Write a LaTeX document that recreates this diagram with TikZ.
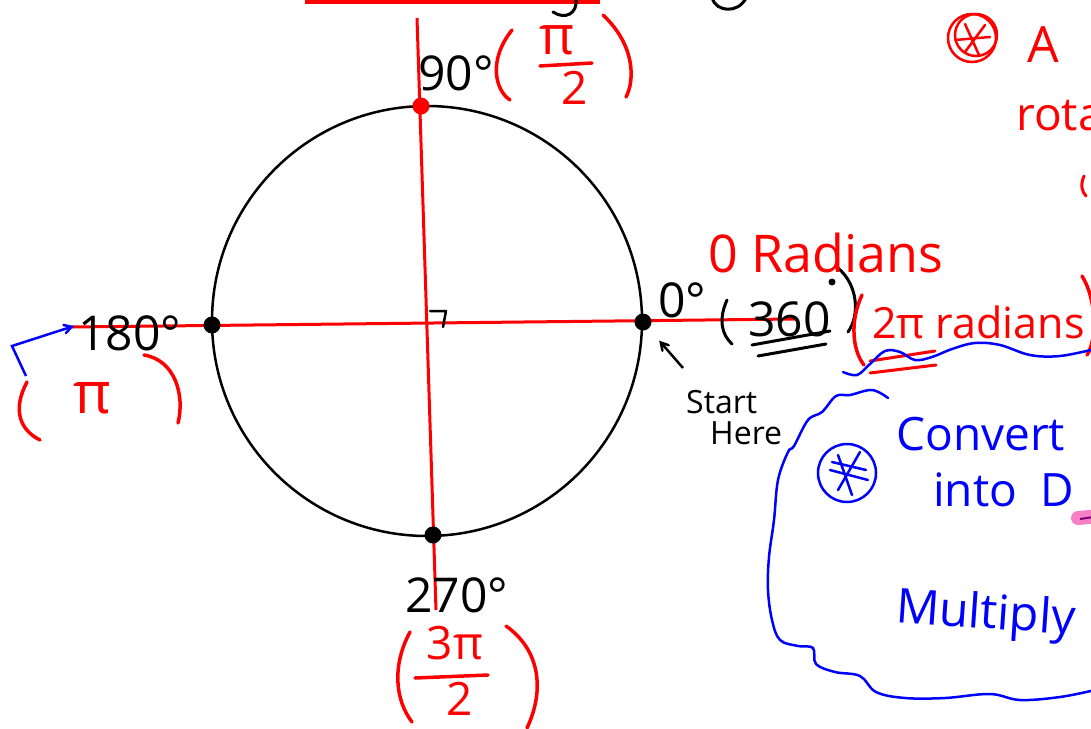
\documentclass[tikz,border=0pt]{standalone}
\usepackage{fontspec}
\setmainfont{Open Sans}
\usetikzlibrary{arrows}
\tikzstyle{axis} = [
    red,
    line width=3pt
]
\tikzstyle{ring} = [
    black,
    line width=2.5pt
]
\tikzstyle{pointdot} = [
    circle,
    fill=black,
    inner sep=0pt,
    minimum size=17pt
]
\tikzstyle{degree} = [
    black,
    inner sep=0pt,
    font=\fontsize{48}{54}\selectfont
]
\tikzstyle{radian} = [
    red,
    inner sep=0pt,
    font=\fontsize{46}{52}\selectfont
]
\tikzstyle{note} = [
    blue,
    inner sep=0pt,
    font=\fontsize{46}{52}\selectfont
]
\tikzstyle{paren} = [
    red,
    line width=3.5pt,
    line cap=round
]
\tikzstyle{stroke} = [
    line width=3pt,
    line cap=round,
    line join=round
]
\tikzstyle{arrow} = [thick,->,>=angle 60]

\begin{document}
\begin{tikzpicture}[x=1pt, y=-1pt]
\useasboundingbox (0,0) rectangle (1091,728);
\fill [white] (0,0) rectangle (1091,728);

% bits of writing cut off at the top
\draw [red, line width=5pt] (305,1) -- (600,1);
\draw [stroke, black] (576,-2) .. controls (578,14) and (565,20) .. (553,12);
\draw [stroke, black] (712,-2) .. controls (716,12) and (738,14) .. (746,-2);

% axes and circle
\coordinate (top) at (417,18);
\coordinate (bottom) at (436,610);
\coordinate (left) at (72,327);
\coordinate (right) at (795,319);
\draw [axis] (top) -- (bottom);
\draw [axis] (left) -- (right);
\draw [ring] (427,321) circle (215);
\draw [stroke, black, line width=2.5pt] (430,311) -- (446,311) -- (443,327);

\node (north) [pointdot, fill=red] at (421,106) {};
\node (west) [pointdot] at (212,325) {};
\node (east) [pointdot] at (643,322) {};
\node (south) [pointdot] at (433,535) {};

% 90 degrees
\node (ninety) [degree, anchor=base west] at (418,90) {90°};
\node (halfpi) [radian, font=\fontsize{54}{56}\selectfont] at (557,40) {π};
\node (halftwo) [radian] at (575,88) {2};
\draw [paren] (540,66) -- (592,63);
\draw [paren] (512,30) .. controls (488,60) and (495,90) .. (510,100);
\draw [paren] (603,15) .. controls (635,45) and (635,80) .. (626,97);

% 180 degrees
\node (oneeighty) [degree, anchor=base west] at (78,350) {180°};
\coordinate (bluetail) at (26,376);
\coordinate (bluetip) at (74,326);
\draw [arrow, blue, line width=2.5pt] (bluetail) -- (12,346) -- (bluetip);
\node (pi) [radian, font=\fontsize{58}{60}\selectfont] at (92,398) {π};
\draw [paren] (27,382) .. controls (12,410) and (20,430) .. (40,440);
\draw [paren] (144,355) .. controls (175,360) and (185,395) .. (178,423);

% 0 degrees
\node (zero) [degree, anchor=base west] at (658,317) {0°};
\node (full) [degree, anchor=base west] at (748,336) {360};
\fill [black] (832,282) circle (3.5);
\draw [stroke, black] (727,300) .. controls (718,320) and (722,335) .. (732,344);
\draw [stroke, black] (838,268) .. controls (858,285) and (860,315) .. (848,332);
\draw [stroke, black] (752,345) -- (830,331);
\draw [stroke, black] (758,356) -- (826,344);
\node (zerorad) [radian, anchor=base west, font=\fontsize{52}{58}\selectfont] at (708,272) {0 Radians};
\node (tworad) [radian, anchor=base west, font=\fontsize{43}{48}\selectfont] at (872,338) {2π radians};
\draw [paren] (862,295) .. controls (850,320) and (852,350) .. (864,365);
\draw [paren] (1082,276) .. controls (1097,300) and (1097,340) .. (1087,355);
\draw [paren, line width=3pt] (870,361) -- (935,351);
\draw [paren, line width=3pt] (870,373) -- (936,365);

% start here
\node (start) [black, inner sep=0pt, font=\fontsize{32}{36}\selectfont, anchor=base west] at (686,413) {Start};
\node (here) [black, inner sep=0pt, font=\fontsize{32}{36}\selectfont, anchor=base west] at (710,444) {Here};
\coordinate (starttail) at (683,368);
\draw [arrow, line width=2.5pt, shorten >=16pt] (starttail) -- (east);

% 270 degrees
\node (twoseventy) [degree, anchor=base west] at (405,612) {270°};
\node (threepi) [radian] at (455,643) {3π};
\node (threetwo) [radian] at (460,699) {2};
\draw [paren] (415,678) -- (488,675);
\draw [paren] (410,632) .. controls (392,665) and (395,700) .. (412,722);
\draw [paren] (506,626) .. controls (540,650) and (545,690) .. (527,728);

% note top right
\draw [red, line width=2.5pt] (972,38) circle (24);
\draw [red, line width=2.5pt] (976,35) circle (21);
\draw [stroke, red, line width=2.5pt] (955,40) -- (990,37);
\draw [stroke, red, line width=2.5pt] (965,24) -- (979,55);
\draw [stroke, red, line width=2.5pt] (985,25) -- (965,52);
\node (rotA) [radian, anchor=base west, font=\fontsize{50}{56}\selectfont] at (1027,62) {A};
\node (rota) [radian, anchor=base west] at (1016,130) {rota};
\draw [paren, line width=3pt] (1084,176) .. controls (1080,185) and (1082,192) .. (1086,196);

% blue cloud
\draw [blue, line width=2.5pt, line cap=round] plot [smooth, tension=0.6] coordinates {
  (843,372) (857,375) (870,364) (885,351) (900,352) (915,360) (932,357)
  (952,349) (975,343) (1000,345) (1030,355) (1060,356) (1095,349)};
\draw [blue, line width=2.5pt, line cap=round] plot [smooth, tension=0.6] coordinates {
  (888,398) (872,390) (850,395) (836,396) (822,412) (808,420) (794,446)
  (788,452) (778,480) (774,520) (769,557) (768,590) (772,620) (780,640)
  (798,646) (813,648) (816,664) (835,672) (860,676) (876,692) (905,698)
  (945,698) (990,694) (1020,700) (1060,697) (1095,690)};
\draw [blue, line width=2.5pt] (847,473) circle (29);
\draw [stroke, blue, line width=2.5pt] (838,455) -- (852,495);
\draw [stroke, blue, line width=2.5pt] (860,452) -- (838,490);
\draw [stroke, blue, line width=2.5pt] (830,470) -- (868,480);
\draw [stroke, blue, line width=2.5pt] (832,462) -- (866,470);
\node (convert) [note, anchor=base west] at (896,450) {Convert};
\node (into) [note, anchor=base west] at (933,506) {into\hspace{0.5em}D};
\draw [magenta!50, line width=14pt, line cap=round] (1078,518) -- (1100,516);
\draw [violet, line width=2pt] (1080,519) -- (1100,516);
\node (multiply) [note, anchor=base west, rotate=-4, font=\fontsize{48}{54}\selectfont] at (895,622) {Multiply};

\end{tikzpicture}
\end{document}
